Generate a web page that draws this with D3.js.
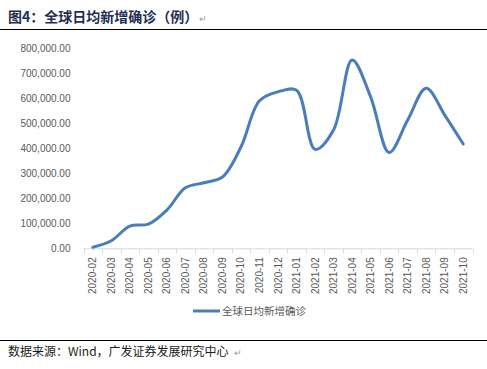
<!DOCTYPE html>
<html>
<head>
<meta charset="utf-8">
<script src="https://cdn.jsdelivr.net/npm/d3@7"></script>
<style>
  body { margin: 0; background: #fff; }
  svg { display: block; }
</style>
</head>
<body>
<div id="chart"></div>
<script>
const months = ["2020-02", "2020-03", "2020-04", "2020-05", "2020-06", "2020-07", "2020-08",
	"2020-09", "2020-10", "2020-11", "2020-12", "2021-01", "2021-02", "2021-03", "2021-04",
	"2021-05", "2021-06", "2021-07", "2021-08", "2021-09", "2021-10"];
const dailyNew = [4000, 30000, 89000, 97000, 153000, 242000, 262000, 285000, 405000, 590000,
	626000, 632000, 396000, 473000, 753000, 606000, 383000, 513000, 640000, 533000, 417000];
const yTicks = [0, 100000, 200000, 300000, 400000, 500000, 600000, 700000, 800000];
const seriesName = "全球日均新增确诊";
const titleText = "图4：全球日均新增确诊（例）";
const sourceText = "数据来源：Wind，广发证券发展研究中心";

const W = 487, H = 369;
const PLOT = { LEFT: 83.5, RIGHT: 472.5, TOP: 48.3, BOTTOM: 248.3 };
const LINE_COLOR = "#4a7ebb";
const CJK = "'Noto Sans CJK SC', sans-serif";
const LATIN = "'Liberation Sans', Arial, sans-serif";

const svg = d3.select("#chart").append("svg")
	.attr("width", W)
	.attr("height", H);

// 标题
svg.append("text")
	.attr("x", 8)
	.attr("y", 22)
	.style("font-family", CJK)
	.style("font-weight", "bold")
	.style("font-size", "14px")
	.attr("fill", "#1f2f55")
	.text(titleText);
svg.append("text")
	.attr("x", 199)
	.attr("y", 22)
	.style("font-family", CJK)
	.style("font-size", "9px")
	.attr("fill", "#999")
	.text("↵");
svg.append("line")
	.attr("x1", 0).attr("x2", W)
	.attr("y1", 29.5).attr("y2", 29.5)
	.attr("stroke", "#000")
	.attr("stroke-width", 1.2);

const x = d3.scaleBand()
	.domain(months)
	.range([PLOT.LEFT, PLOT.RIGHT]);
const y = d3.scaleLinear()
	.domain([0, 800000])
	.range([PLOT.BOTTOM, PLOT.TOP]);

// y 轴标签
const yAxis = svg.append("g")
	.attr("transform", `translate(${PLOT.LEFT - 13}, 0)`)
	.call(d3.axisLeft(y).tickValues(yTicks).tickSize(0).tickPadding(0)
		.tickFormat(d => d3.format(",.2f")(d)));
yAxis.select(".domain").remove();
yAxis.selectAll("text")
	.attr("dy", "0.35em")
	.style("font-family", LATIN)
	.style("font-size", "10px")
	.attr("fill", "#595959");

// x 轴
const xAxisLine = svg.append("g");
xAxisLine.append("line")
	.attr("x1", PLOT.LEFT).attr("x2", PLOT.RIGHT)
	.attr("y1", PLOT.BOTTOM + 0.5).attr("y2", PLOT.BOTTOM + 0.5)
	.attr("stroke", "#d9d9d9");
xAxisLine.selectAll(".tk")
	.data(months.concat(["end"]))
	.enter()
	.append("line")
	.attr("class", "tk")
	.attr("x1", (d, i) => Math.round(PLOT.LEFT + i * x.step()) + 0.5)
	.attr("x2", (d, i) => Math.round(PLOT.LEFT + i * x.step()) + 0.5)
	.attr("y1", PLOT.BOTTOM + 0.5)
	.attr("y2", PLOT.BOTTOM + 5)
	.attr("stroke", "#d9d9d9");

xAxisLine.selectAll(".lbl")
	.data(months)
	.enter()
	.append("text")
	.attr("class", "lbl")
	.attr("transform", d => `translate(${x(d) + x.bandwidth() / 2 + 3.5}, ${PLOT.BOTTOM + 9}) rotate(-90)`)
	.attr("text-anchor", "end")
	.style("font-family", LATIN)
	.style("font-size", "10px")
	.attr("fill", "#595959")
	.text(d => d);

// 折线
const line = d3.line()
	.x((d, i) => x(months[i]) + x.bandwidth() / 2)
	.y(d => y(d))
	.curve(d3.curveCatmullRom.alpha(0.5));

svg.append("path")
	.datum(dailyNew)
	.attr("d", line)
	.attr("fill", "none")
	.attr("stroke", LINE_COLOR)
	.attr("stroke-width", 3)
	.attr("stroke-linecap", "round");

// 图例
const legend = svg.append("g").attr("transform", "translate(193, 311)");
legend.append("line")
	.attr("x1", 0).attr("x2", 27)
	.attr("y1", 0).attr("y2", 0)
	.attr("stroke", LINE_COLOR)
	.attr("stroke-width", 3);
legend.append("text")
	.attr("x", 29)
	.attr("y", 4)
	.style("font-family", CJK)
	.style("font-size", "10.5px")
	.attr("fill", "#595959")
	.text(seriesName);

// 数据来源
svg.append("line")
	.attr("x1", 0).attr("x2", W)
	.attr("y1", 340.5).attr("y2", 340.5)
	.attr("stroke", "#000")
	.attr("stroke-width", 1.2);
svg.append("text")
	.attr("x", 8)
	.attr("y", 356)
	.style("font-family", CJK)
	.style("font-size", "12px")
	.attr("fill", "#1a1a1a")
	.text(sourceText);
svg.append("text")
	.attr("x", 234)
	.attr("y", 356)
	.style("font-family", CJK)
	.style("font-size", "9px")
	.attr("fill", "#999")
	.text("↵");
</script>
</body>
</html>
